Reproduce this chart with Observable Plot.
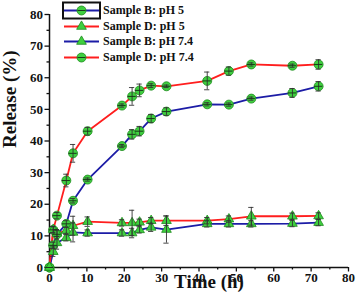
<!DOCTYPE html>
<html><head><meta charset="utf-8">
<script src="https://cdn.jsdelivr.net/npm/d3@7"></script>
<script src="https://cdn.jsdelivr.net/npm/@observablehq/plot@0.6"></script>
<style>
body{margin:0;background:#fff;}
#wrap{position:relative;width:356px;height:301px;}
#legend{position:absolute;left:63px;top:3px;font-family:"Liberation Serif",serif;font-weight:bold;font-size:12px;color:#111;}
.row{display:flex;align-items:center;height:15.5px;white-space:nowrap;}
.row svg{margin-right:3px;overflow:visible}
</style></head><body><div id="wrap"><div id="legend"></div></div>
<script>
const times = [0, 1, 2, 4.5, 6.3, 10.2, 19.4, 22.1, 24.1, 27.2, 31.3, 42.2, 48, 54, 65, 72];
const seriesNames = ["Sample B: pH 5", "Sample D: pH 5", "Sample B: pH 7.4", "Sample D: pH 7.4"];
const seriesColors = ["#1c1ca6", "#ff1e1e", "#1c1ca6", "#ff1e1e"];
const seriesSymbols = ["circle", "triangle", "triangle", "circle"];
const sampleB_pH5 = [0, 7, 10.5, 13.8, 21.1, 27.8, 38.4, 42.1, 43.1, 47.1, 49.3, 51.6, 51.5, 53.4, 55.2, 57.3];
const sampleD_pH5 = [0, 12, 10.8, 11.7, 13.2, 14.5, 14.1, 14.1, 14.3, 14.8, 14.8, 14.8, 15.3, 16.2, 16.2, 16.3];
const sampleB_pH74 = [0, 5, 7.8, 9.4, 11.1, 10.9, 10.9, 10.9, 11.9, 12.7, 12, 13.8, 13.8, 13.8, 13.9, 14.2];
const sampleD_pH74 = [0, 11.9, 16.4, 27.5, 36.1, 43.1, 51.2, 54.1, 56, 57.5, 57.3, 59, 62.1, 64.2, 63.8, 64.2];
const errB_pH5 = [0, 1, 1.5, 1, 0.7, 0.5, 0.5, 1.5, 1.5, 1.3, 1.2, 0.5, 0.5, 0.5, 1.4, 1.5];
const errD_pH5 = [0, 1, 1, 1, 3, 1.5, 1, 4, 1, 1, 1.5, 1, 1, 2.8, 1, 1];
const errB_pH74 = [0, 1.5, 2, 1, 3, 1, 1, 1.5, 1, 1.3, 4.3, 1, 1, 1, 1, 1];
const errD_pH74 = [0, 1, 1, 2, 2.8, 1.2, 0.5, 2.8, 2, 0.6, 0.4, 2.8, 1.3, 0.5, 0.5, 1.5];
const xTicks = [0, 10, 20, 30, 40, 50, 60, 70, 80];
const xMinor = [5, 15, 25, 35, 45, 55, 65, 75];
const yTicks = [0, 10, 20, 30, 40, 50, 60, 70, 80];
const yMinor = [5, 15, 25, 35, 45, 55, 65, 75];

const values = [sampleB_pH5, sampleD_pH5, sampleB_pH74, sampleD_pH74];
const errs = [errB_pH5, errD_pH5, errB_pH74, errD_pH74];
const rows = [];
values.forEach((vals, i) => vals.forEach((v, j) => rows.push({s: seriesNames[i], t: times[j], v, e: errs[i][j], sym: seriesSymbols[i], c: seriesColors[i]})));
const circ = rows.filter(d => d.sym === "circle");
const tri = rows.filter(d => d.sym === "triangle");
const eb = rows.filter(d => d.e > 0);
const cap = 0.7;
const green = "#3fcf3f", greenEdge = "#1d8a1d";

const plot = Plot.plot({
  width: 356, height: 301,
  marginLeft: 49, marginRight: 8, marginTop: 14, marginBottom: 34,
  x: {domain: [0, 80]},
  y: {domain: [0, 80]},
  style: {fontFamily: "Liberation Serif, serif", fontWeight: "bold", fontSize: "13px", color: "#111", background: "white"},
  marks: [
    Plot.axisX({ticks: xTicks, tickSize: 4.5, tickPadding: 0.5, label: null, strokeWidth: 1.3}),
    Plot.axisX({ticks: xMinor, tickSize: 2.5, text: null, label: null, strokeWidth: 1.3}),
    Plot.axisY({ticks: yTicks, tickSize: 4.5, tickPadding: 2, label: null, strokeWidth: 1.3}),
    Plot.axisY({ticks: yMinor, tickSize: 2.5, text: null, label: null, strokeWidth: 1.3}),
    Plot.ruleX([0], {stroke: "#111", strokeWidth: 1.5}),
    Plot.ruleY([0], {stroke: "#111", strokeWidth: 1.5}),
    Plot.line(rows, {x: "t", y: "v", z: "s", stroke: "c", strokeWidth: 1.8}),
    Plot.dot(circ, {x: "t", y: "v", r: 4.5, fill: green, stroke: greenEdge, strokeWidth: 0.8}),
    Plot.dot(tri, {x: "t", y: "v", r: 3.6, symbol: "triangle", fill: green, stroke: greenEdge, strokeWidth: 0.8}),
    Plot.ruleX(eb, {x: "t", y1: d => d.v - d.e, y2: d => d.v + d.e, stroke: "#333", strokeWidth: 0.9}),
    Plot.ruleY(eb, {y: d => d.v - d.e, x1: d => d.t - cap, x2: d => d.t + cap, stroke: "#333", strokeWidth: 0.9}),
    Plot.ruleY(eb, {y: d => d.v + d.e, x1: d => d.t - cap, x2: d => d.t + cap, stroke: "#333", strokeWidth: 0.9}),
    Plot.ruleY(circ, {y: "v", x1: d => d.t - 1.1, x2: d => d.t + 1.1, stroke: "#1a3a1a", strokeWidth: 1}),
    Plot.text(["Release (%)"], {frameAnchor: "left", rotate: -90, dx: -40, dy: 7, fontSize: 19, fontWeight: "bold"}),
    Plot.text(["Time (h)"], {frameAnchor: "bottom", dx: 10, dy: 20, fontSize: 19, fontWeight: "bold"})
  ]
});
document.getElementById("wrap").prepend(plot);
plot.style.position = "absolute"; plot.style.left = "0"; plot.style.top = "0";

const legend = d3.select("#legend");
seriesNames.forEach((name, i) => {
  const row = legend.append("div").attr("class", "row");
  const svg = row.append("svg").attr("width", 37).attr("height", 15);
  if (i === 0) svg.append("rect").attr("x", 0).attr("y", -0.5).attr("width", 37).attr("height", 16).attr("fill", "none").attr("stroke", "#111").attr("stroke-width", 2);
  svg.append("line").attr("x1", 1).attr("x2", 36).attr("y1", 7.5).attr("y2", 7.5).attr("stroke", seriesColors[i]).attr("stroke-width", 1.8);
  if (seriesSymbols[i] === "circle") {
    svg.append("circle").attr("cx", 18.5).attr("cy", 7.5).attr("r", 4.5).attr("fill", green).attr("stroke", greenEdge).attr("stroke-width", 0.8);
    svg.append("line").attr("x1", 14.5).attr("x2", 22.5).attr("y1", 7.5).attr("y2", 7.5).attr("stroke", "#1a3a1a").attr("stroke-width", 1);
  } else {
    svg.append("path").attr("transform", "translate(18.5,7.5)").attr("d", d3.symbol(d3.symbolTriangle, Math.PI * 3.6 * 3.6)()).attr("fill", green).attr("stroke", greenEdge).attr("stroke-width", 0.8);
  }
  row.append("span").text(name);
});
</script></body></html>
